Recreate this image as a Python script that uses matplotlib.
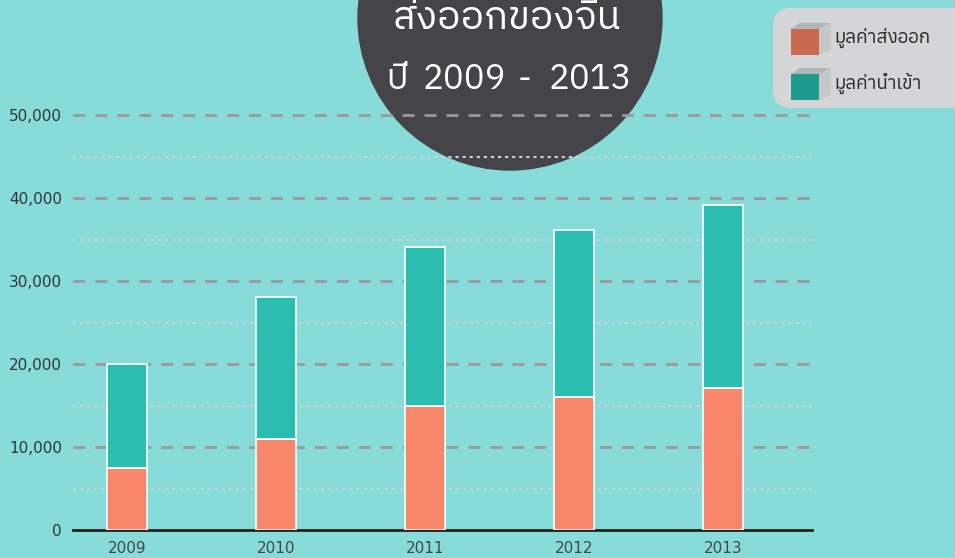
import numpy as np
import matplotlib
matplotlib.use("Agg")
import matplotlib.pyplot as plt
from matplotlib import font_manager
from matplotlib.ft2font import FT2Font
from matplotlib.patches import Circle, FancyBboxPatch, Polygon, Rectangle
from matplotlib.ticker import FuncFormatter, MultipleLocator

# ---- data ----
years = ["2009", "2010", "2011", "2012", "2013"]
export_val = [7500, 11000, 15000, 16000, 17100]
import_val = [12500, 17100, 19100, 20100, 22100]
legend_labels = ["มูลค่าส่งออก", "มูลค่านำเข้า"]
title_line1 = "ส่งออกของจีน"
title_line2 = ["ปี", "2009", "-", "2013"]

# ---- colours ----
c_bg = "#87DBD8"
c_exp = "#F6876B"
c_imp = "#2BBDB0"
c_circle = "#444449"


# fonts with Thai glyphs (none of the named families has them)
def thai_fonts():
    found = []
    for f in font_manager.fontManager.ttflist:
        try:
            if FT2Font(f.fname).get_char_index(0x0E21) and f.style == "normal":
                w = f.weight if isinstance(f.weight, int) else 400
                found.append((w, f.name, f.fname))
        except Exception:
            pass
    found.sort()
    return found


cands = thai_fonts()
thai_light = cands[0][1] if cands else "DejaVu Sans"
thai_reg = thai_light
for w, n, p in cands:
    if w >= 400:
        thai_reg = n
        break
plt.rcParams["font.family"] = [thai_reg, "DejaVu Sans"]

W, H = 955, 558
fig = plt.figure(figsize=(W / 100, H / 100), dpi=100, facecolor=c_bg)

# background layer in pixel coordinates
bg = fig.add_axes([0, 0, 1, 1], zorder=0)
bg.set_xlim(0, W)
bg.set_ylim(H, 0)
bg.axis("off")
bg.add_patch(Circle((510, 18), 152, color=c_circle, zorder=1))

# ---- main chart ----
ax = fig.add_axes([73 / W, 28 / H, (812 - 73) / W, (530 - 98.4) / H], zorder=2)
ax.set_facecolor("none")
x = np.arange(len(years))
ax.bar(x, export_val, width=0.268, color=c_exp, edgecolor="white", linewidth=1.2, zorder=3)
ax.bar(x, import_val, width=0.268, bottom=export_val, color=c_imp, edgecolor="white",
       linewidth=1.2, zorder=3)

ax.set_xlim(-0.362, 4.597)
ax.set_ylim(0, 52000)
for yv in range(10000, 50001, 10000):
    ax.axhline(yv, color="#9A9A9A", linewidth=2, dashes=(4.3, 3.6), zorder=1)
for yv in range(5000, 50000, 10000):
    ax.axhline(yv, color="#CDD3D3", linewidth=1.5, dashes=(1.5, 1.9), zorder=1)

ax.yaxis.set_major_locator(MultipleLocator(10000))
ax.yaxis.set_major_formatter(FuncFormatter(lambda v, p: f"{int(v):,}"))
ax.set_xticks(x)
ax.set_xticklabels(years)
ax.tick_params(axis="y", length=0, pad=8, labelsize=11, labelcolor="#2E3838")
ax.tick_params(axis="x", length=0, pad=8, labelsize=11, labelcolor="#3E484E")
for lab in ax.get_xticklabels() + ax.get_yticklabels():
    lab.set_family("DejaVu Sans")
for s in ["top", "right", "left"]:
    ax.spines[s].set_visible(False)
ax.spines["bottom"].set_color("#222222")
ax.spines["bottom"].set_linewidth(2)

# ---- overlay: title and legend ----
ov = fig.add_axes([0, 0, 1, 1], zorder=3)
ov.set_xlim(0, W)
ov.set_ylim(H, 0)
ov.axis("off")
ov.text(507, 29, title_line1, color="white", fontsize=28, ha="center", va="baseline",
        family=[thai_light, "DejaVu Sans"])
for txt, cx in zip(title_line2, [397, 464, 525, 590]):
    ov.text(cx, 89, txt, color="white", fontsize=25, ha="center", va="baseline",
            family=[thai_light, "DejaVu Sans"])

ov.add_patch(FancyBboxPatch((773, 8), 210, 100, boxstyle="round,pad=0,rounding_size=18",
                            facecolor="#D3D5D6", edgecolor="none"))
cube_cols = ["#C96A50", "#1E9B8B"]
cube_tops = [29, 74]
for col, top, lab in zip(cube_cols, cube_tops, legend_labels):
    # top face, side face, front face
    ov.add_patch(Polygon([(791, top), (800, top - 6), (831, top - 6), (819, top)],
                         closed=True, facecolor="#B3B6B8", edgecolor="none"))
    ov.add_patch(Polygon([(819, top), (831, top - 6), (831, top + 21), (819, top + 26)],
                         closed=True, facecolor="#C5C7C9", edgecolor="none"))
    ov.add_patch(Rectangle((791, top), 28, 26, facecolor=col, edgecolor="none"))
    ov.text(834, top + 9, lab, fontsize=13.5, color="#2A2A2A", ha="left", va="center")

fig.savefig("out.png", dpi=100, facecolor=c_bg)
